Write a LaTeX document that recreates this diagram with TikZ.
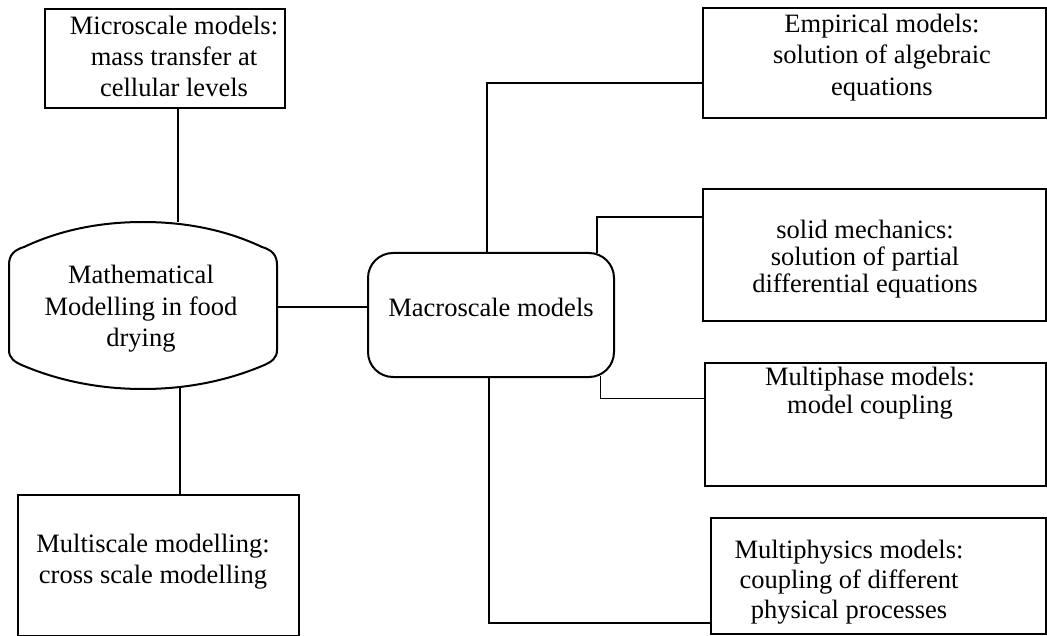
\documentclass[tikz,border=0pt]{standalone}
\usepackage{fontspec}
\setmainfont{Liberation Serif}
\begin{document}
\begin{tikzpicture}[x=1pt,y=-1pt,
  box/.style={draw, line width=2pt, inner sep=0pt, anchor=north west, rectangle},
  txt/.style={align=center, inner sep=0pt, font=\fontsize{26.5}{#1}\selectfont},
  conn/.style={line width=2.6pt},
  thinconn/.style={line width=1pt}]
\useasboundingbox (0,0) rectangle (1047,636);

% Microscale
\node[box, minimum width=240pt, minimum height=99pt] (micro) at (44,8) {};
\node[txt=31] (micro-t) at (174,59.8) {\strut Microscale models:\\\strut mass transfer at\\\strut cellular levels};

% Mathematical modelling (cylinder-like outline)
\node[minimum width=268pt, minimum height=167pt, inner sep=0pt] (math) at (143,305.5) {};
\draw[line width=2pt] (9,350) -- (9,265)
  .. controls (9,255) and (14,250) .. (24,247)
  .. controls (60,230) and (100,222) .. (143,222)
  .. controls (186,222) and (226,230) .. (262,247)
  .. controls (272,250) and (277,255) .. (277,265)
  -- (277,350)
  .. controls (277,358) and (272,362) .. (262,366)
  .. controls (226,381) and (186,389) .. (143,389)
  .. controls (100,389) and (60,381) .. (24,366)
  .. controls (14,362) and (9,358) .. (9,350) -- cycle;
\node[txt=31.5] (math-t) at (141,308.7) {\strut Mathematical\\\strut Modelling in food\\\strut drying};

% Macroscale
\node[draw, line width=2pt, rounded corners=25pt, minimum width=246pt, minimum height=124pt, inner sep=0pt, anchor=north west] (macro) at (367,252) {};
\node[txt=30] (macro-t) at (491,311) {\strut Macroscale models};

% Multiscale
\node[box, minimum width=281pt, minimum height=141pt] (mscale) at (17,494) {};
\node[txt=31] (mscale-t) at (153,561.3) {\strut Multiscale modelling:\\\strut cross scale modelling};

% Right boxes
\node[box, minimum width=343pt, minimum height=110pt] (emp) at (702,7) {};
\node[txt=31.5] (emp-t) at (882,57.7) {\strut Empirical models:\\\strut solution of algebraic\\\strut equations};

\node[box, minimum width=343pt, minimum height=132pt] (solid) at (702,188) {};
\node[txt=27] (solid-t) at (865,260.6) {\strut solid mechanics:\\\strut solution of partial\\\strut differential equations};

\node[box, minimum width=341pt, minimum height=123pt] (mphase) at (704,362) {};
\node[txt=28] (mphase-t) at (870,393.4) {\strut Multiphase models:\\\strut model coupling};

\node[box, minimum width=335pt, minimum height=116pt] (mphys) at (710,517) {};
\node[txt=30] (mphys-t) at (849,582) {\strut Multiphysics models:\\\strut coupling of different\\\strut physical processes};

% Connectors
\draw[conn] ([xshift=13pt]micro.south) -- ([xshift=13pt]micro.south |- math.north);
\draw[conn] ([yshift=-1.5pt]math.east) -- ([yshift=-1.5pt]math.east -| macro.west);
\draw[conn] ([xshift=37pt,yshift=1pt]math.south) -- ([xshift=37pt]math.south |- mscale.north);
\draw[conn] ([xshift=-4pt]macro.north) |- ([yshift=-20pt]emp.west);
\draw[conn] ([xshift=106pt,yshift=-1pt]macro.north) |- ([yshift=38pt]solid.west);
\draw[thinconn] ([xshift=109pt,yshift=2pt]macro.south) |- ([yshift=26.5pt]mphase.west);
\draw[conn] ([xshift=-2pt]macro.south) |- ([yshift=-47pt]mphys.west);
\end{tikzpicture}
\end{document}
